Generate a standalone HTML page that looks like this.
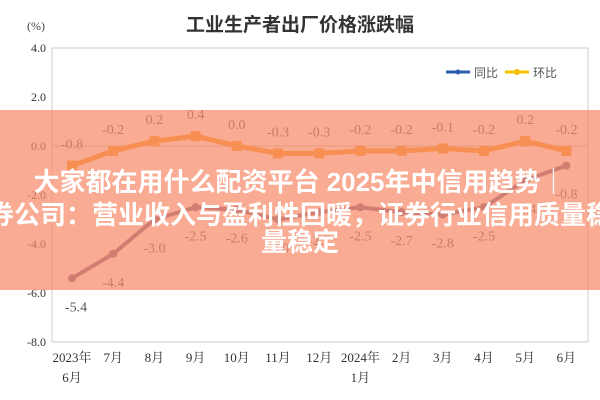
<!DOCTYPE html>
<html><head><meta charset="utf-8"><style>
body{margin:0;width:600px;height:400px;overflow:hidden;background:#fff;font-family:"Liberation Serif","Noto Serif CJK SC",serif;}
#banner{position:absolute;left:0;top:110px;width:600px;height:180px;background:rgba(248,138,106,0.72);overflow:hidden;}
.bt{position:absolute;left:-100px;width:800px;text-align:center;color:#fff;font-weight:bold;font-size:26px;line-height:30px;font-family:"Liberation Sans","Noto Sans CJK SC",sans-serif;white-space:nowrap;}
</style></head><body>
<svg id="chart" width="600" height="400" style="position:absolute;left:0;top:0">
<text x="300" y="31" text-anchor="middle" font-size="19" font-weight="bold" fill="#333" font-family="Noto Sans CJK SC, sans-serif">工业生产者出厂价格涨跌幅</text>
<text x="36" y="30" text-anchor="middle" font-size="12" fill="#444">(%)</text>
<rect x="52" y="48" width="536" height="294" fill="none" stroke="#ccc"/>
<g id="axes"></g><g id="series"></g>
<g>
<line x1="446" y1="72" x2="470" y2="72" stroke="#2a5caa" stroke-width="3"/><circle cx="458" cy="72" r="2.5" fill="#2a5caa"/>
<text x="474" y="77" font-size="12" fill="#555" font-family="Noto Sans CJK SC, sans-serif">同比</text>
<line x1="505" y1="72" x2="529" y2="72" stroke="#f5c000" stroke-width="3"/><circle cx="517" cy="72" r="3" fill="#f5c000"/>
<text x="533" y="77" font-size="12" fill="#555" font-family="Noto Sans CJK SC, sans-serif">环比</text>
</g>
</svg>
<div id="banner">
<div class="bt" style="top:57px">大家都在用什么配资平台 2025年中信用趋势｜</div>
<div class="bt" style="top:90px">券公司：营业收入与盈利性回暖，证券行业信用质量稳</div>
<div class="bt" style="top:117px">量稳定</div>
</div>
<script>
const categories=["2023年|6月","7月","8月","9月","10月","11月","12月","2024年|1月","2月","3月","4月","5月","6月"];
const yoy=[-5.4,-4.4,-3.0,-2.5,-2.6,-3.0,-2.7,-2.5,-2.7,-2.8,-2.5,-1.4,-0.8];
const mom=[-0.8,-0.2,0.2,0.4,0.0,-0.3,-0.3,-0.2,-0.2,-0.1,-0.2,0.2,-0.2];
const yTicks=[4,2,0,-2,-4,-6,-8];
const NS="http://www.w3.org/2000/svg";
const X0=72,DX=41.2,YT=48,YB=342,YMAX=4,YMIN=-8;
const xs=i=>X0+i*DX;
const ys=v=>YT+(YMAX-v)/(YMAX-YMIN)*(YB-YT);
function mk(t,a,p){const e=document.createElementNS(NS,t);for(const k in a)e.setAttribute(k,a[k]);p.appendChild(e);return e;}
const ax=document.getElementById('axes'),se=document.getElementById('series');
yTicks.forEach(v=>{
 const t=mk('text',{x:46,y:ys(v)+4,'text-anchor':'end','font-size':12,fill:'#333'},ax);
 t.textContent=v.toFixed(1);
 
 
 if(v===0){const l=mk('line',{x1:52,x2:588,y1:ys(0),y2:ys(0),stroke:'#bbb'},ax);
 
 }
});
categories.forEach((c,i)=>{
 c.split('|').forEach((p,j)=>{
  const t=mk('text',{x:xs(i),y:362+j*20,'text-anchor':'middle','font-size':13,fill:'#333'},ax);
  t.textContent=p;
  
  
 });
});
function series(vals,color,name,w,off,shape){
 const pl=mk('polyline',{points:vals.map((v,i)=>xs(i)+','+ys(v)).join(' '),fill:'none',stroke:color,'stroke-width':w},se);
 
 
 vals.forEach((v,i)=>{
  let m;
  if(shape==='sq'){m=mk('rect',{x:xs(i)-5,y:ys(v)-5,width:10,height:10,fill:color},se);}
  else{m=mk('circle',{cx:xs(i),cy:ys(v),r:4,fill:color},se);}
  
  
  const t=mk('text',{x:xs(i)+ (i===0&&name==='yoy'?4:0),y:ys(v)+off,'text-anchor':'middle','font-size':14,fill:'#555'},se);
  t.textContent=v.toFixed(1);
  
  
 });
}
series(mom,'#f39a1c','mom',5,-17,'sq');
series(yoy,'#6b5b8a','yoy',4,33,'c');
</script>
</body></html>
